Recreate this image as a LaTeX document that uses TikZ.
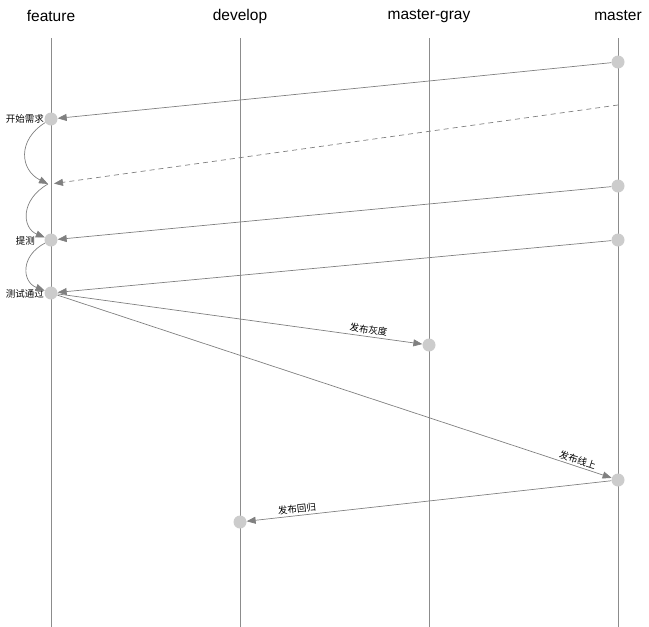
\documentclass[tikz,border=0pt]{standalone}
\usepackage{fontspec}
\setmainfont{Liberation Sans}
\newfontfamily\cjk{Noto Sans CJK SC}
\usetikzlibrary{arrows.meta}
\begin{document}
\begin{tikzpicture}[x=1pt,y=-1pt,
  lane/.style={draw=black!45,line width=0.8pt},
  dot/.style={circle,fill=black!20,inner sep=0pt,minimum size=13pt},
  title/.style={font=\fontsize{15.5}{17}\selectfont},
  lbl/.style={font=\cjk\fontsize{9.5}{10}\selectfont,inner sep=1pt},
  conn/.style={draw=black!50,line width=0.7pt,-{Triangle[width=7pt,length=9pt]}},
  dconn/.style={conn,dash pattern=on 5pt off 4pt}]
\useasboundingbox (0,0) rectangle (649,627);
% titles
\node[title] (tf) at (51,16) {feature};
\node[title] (td) at (240,16) {develop};
\node[title] (tg) at (429,16) {master-gray};
\node[title] (tm) at (618,16) {master};
% lanes
\coordinate (ftop) at (51,38); \coordinate (fbot) at (51,627);
\coordinate (dtop) at (240,38); \coordinate (dbot) at (240,627);
\coordinate (gtop) at (429,38); \coordinate (gbot) at (429,627);
\coordinate (mtop) at (618,38); \coordinate (mbot) at (618,627);
\draw[lane] (ftop) -- (fbot);
\draw[lane] (dtop) -- (dbot);
\draw[lane] (gtop) -- (gbot);
\draw[lane] (mtop) -- (mbot);
% dots
\node[dot] (m1) at (618,62) {};
\node[dot] (f1) at (51,119) {};
\coordinate (m2) at (618,105);
\coordinate (f2) at (51,184);
\node[dot] (m3) at (618,186) {};
\node[dot] (f3) at (51,240) {};
\node[dot] (m4) at (618,240) {};
\node[dot] (f4) at (51,293) {};
\node[dot] (g1) at (429,345) {};
\node[dot] (m5) at (618,480) {};
\node[dot] (d1) at (240,522) {};
% side labels
\node[lbl,anchor=east] (l1) at (45,119) {开始需求};
\node[lbl,anchor=east] (l2) at (36,241) {提测};
\node[lbl,anchor=east] (l3) at (45,294) {测试通过};
% connectors
\draw[conn] (m1) -- (f1);
\draw[dconn,shorten >=3pt] (m2) -- (f2);
\draw[conn] (m3) -- (f3);
\draw[conn] (m4) -- (f4);
\draw[conn] (f4) -- (g1) node[lbl,pos=0.85,above,sloped,yshift=1pt] {发布灰度};
\draw[conn] (f4) -- (m5) node[lbl,pos=0.935,above,sloped,yshift=1pt] {发布线上};
\draw[conn] (m5) -- (d1) node[lbl,pos=0.86,above,sloped,yshift=1pt] {发布回归};
% curved arrows
\draw[conn] (f1) .. controls (17,140) and (20,170) .. ([xshift=-3pt]f2);
\draw[conn] ([xshift=-3pt]f2) .. controls (20,200) and (22,228) .. (f3);
\draw[conn] (f3) .. controls (20,256) and (22,282) .. (f4);
\end{tikzpicture}
\end{document}
